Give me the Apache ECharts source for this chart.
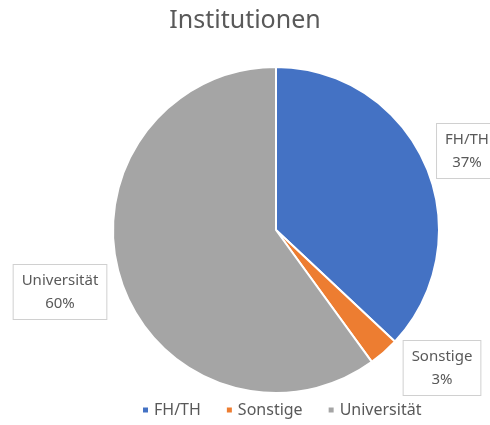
<!DOCTYPE html>
<html>
<head>
  <meta charset="utf-8">
  <title>Institutionen</title>
  <script src="https://cdn.jsdelivr.net/npm/echarts@6/dist/echarts.min.js"></script>
  <style>
    body { margin: 0; background: #fff; }
  </style>
</head>
<body>
  <div id="main" style="width: 490px;height:425px;"></div>
  <script type="text/javascript">
    // data
    var categories = ['FH/TH', 'Sonstige', 'Universität'];
    var values = [37, 3, 60];
    var colors = ['#4472c4', '#ed7d31', '#a5a5a5'];

    // where the label boxes sit (box centres)
    var labelSpots = [[467, 151], [442, 368], [60, 292]];

    var myChart = echarts.init(document.getElementById('main'));

    var option = {
      color: colors,
      title: {
        text: 'Institutionen',
        left: 'center',
        top: 3,
        textStyle: {
          fontFamily: 'Noto Sans',
          fontWeight: 'normal',
          fontSize: 25,
          color: '#595959'
        }
      },
      legend: {
        bottom: 2,
        left: 136,
        icon: 'rect',
        itemWidth: 7,
        itemHeight: 7,
        itemGap: 24,
        textStyle: { fontFamily: 'Noto Sans', fontSize: 16, color: '#595959' },
        data: categories
      },
      series: [{
        type: 'pie',
        center: [276, 230],
        radius: 163,
        startAngle: 90,
        clockwise: true,
        percentPrecision: 0,
        animation: false,
        itemStyle: { borderColor: '#fff', borderWidth: 2 },
        label: {
          position: 'inside',
          formatter: '{b}\n{d}%',
          fontFamily: 'Noto Sans',
          fontSize: 15,
          lineHeight: 23,
          color: '#595959',
          backgroundColor: '#fff',
          borderColor: '#d0d0d0',
          borderWidth: 1,
          padding: [4, 8],
          align: 'center'
        },
        labelLine: { show: false },
        labelLayout: function (params) {
          var p = labelSpots[params.dataIndex];
          return { x: p[0], y: p[1], align: 'center', verticalAlign: 'middle' };
        },
        emphasis: { disabled: true },
        data: categories.map(function (c, i) {
          return { name: c, value: values[i] };
        })
      }]
    };

    myChart.setOption(option);
  </script>
</body>
</html>
